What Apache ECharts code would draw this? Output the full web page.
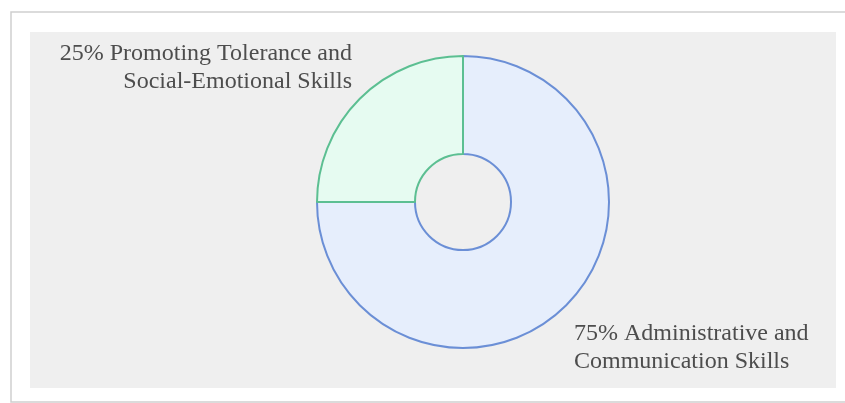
<!DOCTYPE html>
<html><head><meta charset="utf-8">
<script src="https://cdn.jsdelivr.net/npm/echarts@6/dist/echarts.min.js"></script>
<style>html,body{margin:0;padding:0;background:#fff}#c{width:845px;height:403px}</style>
</head><body><div id="c"></div>
<script>
const categories = ["Administrative and\nCommunication Skills", "Promoting Tolerance and\nSocial-Emotional Skills"];
const values = [75, 25];

const fills = ["#e6eefc", "#e6fbf1"];
const strokes = ["#6b8fd6", "#5cbf92"];
const labelPos = [
  {x: 574, y: 348, align: "left"},
  {x: 352, y: 68, align: "right"}
];

const chart = echarts.init(document.getElementById('c'));
chart.setOption({
  backgroundColor: "#ffffff",
  animation: false,
  graphic: [
    {type: "rect", z: -10, shape: {x: 11, y: 12, width: 860, height: 390}, style: {fill: "#ffffff", stroke: "#cfcfcf", lineWidth: 1.5}},
    {type: "rect", z: -9, shape: {x: 30, y: 32, width: 806, height: 356}, style: {fill: "#efefef"}}
  ],
  series: [{
    type: "pie",
    center: [463, 202],
    radius: [48, 146],
    startAngle: 90,
    clockwise: true,
    data: categories.map((c, i) => ({
      name: c, value: values[i],
      itemStyle: {color: fills[i], borderColor: strokes[i], borderWidth: 2}
    })),
    label: {
      show: true,
      position: "outside",
      formatter: p => p.value + "% " + p.name,
      fontFamily: "Liberation Serif",
      fontSize: 24,
      lineHeight: 28,
      color: "#4d4d4d",
      overflow: "none",
      width: 400
    },
    labelLine: {show: false},
    labelLayout: p => ({
      x: labelPos[p.dataIndex].x,
      y: labelPos[p.dataIndex].y,
      align: labelPos[p.dataIndex].align,
      verticalAlign: "middle"
    }),
    emphasis: {disabled: true}
  }]
});
</script></body></html>
